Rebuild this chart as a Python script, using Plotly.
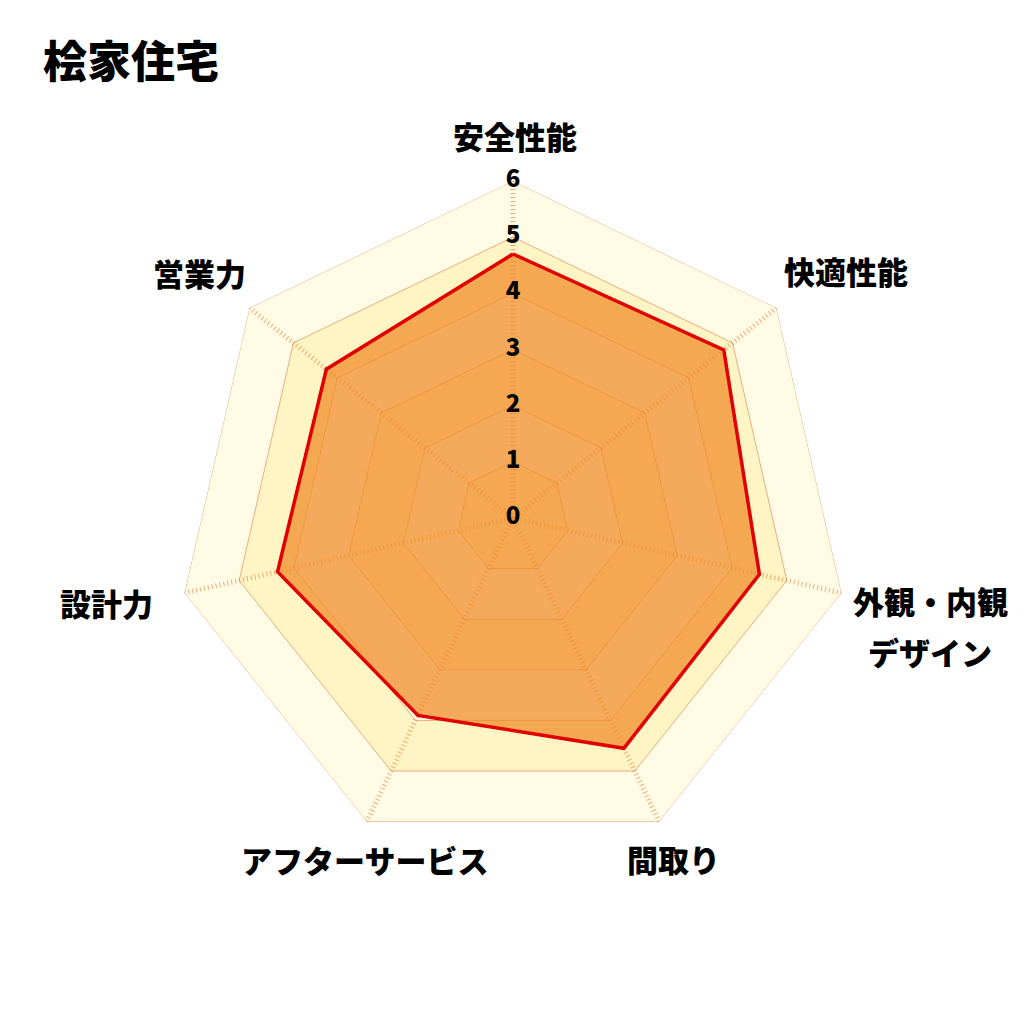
import plotly.graph_objects as go

title = "桧家住宅"
categories = ["安全性能", "快適性能", "外観・内観デザイン", "間取り",
              "アフターサービス", "設計力", "営業力"]
scores = [4.7, 4.8, 4.5, 4.55, 3.9, 4.3, 4.25]
levels = [6, 5, 4, 3, 2, 1]
tick_labels = ["0", "1", "2", "3", "4", "5", "6"]
tick_values = [0, 1, 2, 3, 4, 5, 6]

# label text lines and their centre positions (pixels in the 1024 canvas)
label_lines = [["安全性能"], ["快適性能"], ["外観・内観", "デザイン"], ["間取り"],
               ["アフターサービス"], ["設計力"], ["営業力"]]
label_pos = [[(515, 135)], [(846, 270)], [(930, 600), (930, 651)], [(673, 858)],
             [(364, 859)], [(106, 602)], [(199, 272)]]

FONT = "Noto Sans CJK JP"
band_colors = ["#FFFBE5", "#FFF5C4"]
grid_color = "rgba(228,160,115,0.85)"
spoke_color = "rgba(228,140,80,0.7)"
OFF = 8  # page offset of the rendered figure


def px(x):
    return (x - OFF) / 1024


def py(y):
    return 1 - (y - OFF) / 1024


closed_cats = categories + [categories[0]]

fig = go.Figure()

for i, lv in enumerate(levels):
    fig.add_trace(go.Scatterpolar(
        r=[lv] * len(closed_cats), theta=closed_cats,
        mode="lines", fill="toself",
        fillcolor=band_colors[i % 2],
        line=dict(color=grid_color, width=1),
        hoverinfo="skip", showlegend=False))

for c in categories:
    fig.add_trace(go.Scatterpolar(
        r=[0, levels[0]], theta=[c, c], mode="lines",
        line=dict(color=spoke_color, width=5, dash="1px,3px"),
        hoverinfo="skip", showlegend=False))

fig.add_trace(go.Scatterpolar(
    r=scores + [scores[0]], theta=closed_cats,
    mode="lines", fill="toself",
    fillcolor="rgba(240,138,36,0.72)",
    line=dict(color="#E00000", width=3.5),
    showlegend=False))

# radial tick labels along the top spoke (0 nudged off the exact origin so it renders)
fig.add_trace(go.Scatterpolar(
    r=[max(v, 0.001) for v in tick_values], theta=[categories[0]] * len(tick_values),
    mode="text", text=tick_labels, textposition="middle center",
    textfont=dict(family=FONT, size=24, color="black", weight=900),
    cliponaxis=False,
    hoverinfo="skip", showlegend=False))

annotations = []
for lines, poss in zip(label_lines, label_pos):
    for t, (x, y) in zip(lines, poss):
        annotations.append(dict(
            text=t, x=px(x), y=py(y), xref="paper", yref="paper",
            xanchor="center", yanchor="middle", showarrow=False,
            font=dict(family=FONT, size=31, color="black", weight=900)))

fig.update_layout(
    width=1024, height=1024,
    margin=dict(l=0, r=0, t=0, b=0),
    paper_bgcolor="white", plot_bgcolor="white",
    title=dict(text=title, x=px(43), xanchor="left", y=py(63), yanchor="middle",
               font=dict(family=FONT, size=44, color="black", weight=900)),
    annotations=annotations,
    polar=dict(
        domain=dict(x=[px(176), px(850)], y=[py(855), py(181)]),
        gridshape="linear",
        bgcolor="rgba(0,0,0,0)",
        radialaxis=dict(range=[0, 6], showgrid=False, showline=False,
                        showticklabels=False, ticks=""),
        angularaxis=dict(rotation=90, direction="clockwise",
                         categoryorder="array", categoryarray=categories,
                         showgrid=False, showline=False,
                         showticklabels=False, ticks=""),
    ),
)

fig.write_html("out.html")
